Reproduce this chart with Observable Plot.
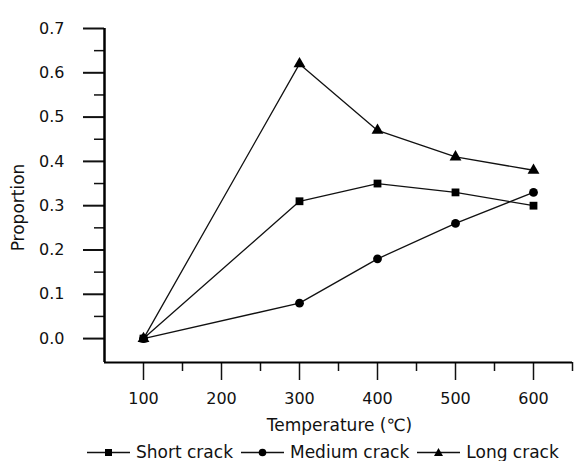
<!DOCTYPE html>
<html><head><meta charset="utf-8">
<script src="https://cdn.jsdelivr.net/npm/d3@7"></script>
<script src="https://cdn.jsdelivr.net/npm/@observablehq/plot@0.6"></script>
<style>
body{margin:0;background:#fff;font-family:"DejaVu Sans",sans-serif;overflow:hidden}
#legend{display:flex;justify-content:flex-start;align-items:center;font-size:17px;line-height:18px;color:#111;height:18px;margin-top:0px;padding-left:87px;white-space:nowrap}
#legend span.item{display:flex;align-items:center;margin-right:8px}
#legend svg{margin-right:6px}
</style></head><body>
<div id="chart"></div>
<div id="legend"></div>
<script>
const temps = [100, 300, 400, 500, 600];
const shortCrack = [0, 0.31, 0.35, 0.33, 0.30];
const mediumCrack = [0, 0.08, 0.18, 0.26, 0.33];
const longCrack = [0, 0.62, 0.47, 0.41, 0.38];
const seriesNames = ["Short crack", "Medium crack", "Long crack"];
const seriesSymbols = ["square", "circle", "triangle"];
const yMajor = [0, 0.1, 0.2, 0.3, 0.4, 0.5, 0.6, 0.7];
const yMinor = [0.05, 0.15, 0.25, 0.35, 0.45, 0.55, 0.65];
const xMajor = [100, 200, 300, 400, 500, 600];
const xMinor = [150, 250, 350, 450, 550, 650];

const allSeries = [shortCrack, mediumCrack, longCrack];
const data = [];
allSeries.forEach((vals, i) => vals.forEach((v, j) => data.push({t: temps[j], v, s: seriesNames[i]})));

const yMin = -0.054, xMin = 50, xMax = 650;
const fs = 16;
const chart = Plot.plot({
  width: 574, height: 443,
  marginLeft: 104, marginTop: 28, marginRight: 2, marginBottom: 81,
  style: {fontFamily: '"DejaVu Sans", sans-serif', fontSize: fs + "px", color: "#111", background: "transparent"},
  x: {domain: [xMin, xMax]},
  y: {domain: [yMin, 0.7]},
  symbol: {domain: seriesNames, range: seriesSymbols},
  marks: [
    Plot.axisY({ticks: yMajor, tickSize: 21, tickPadding: 19, tickFormat: d3.format(".1f"), label: null, fontSize: fs, strokeWidth: 2}),
    Plot.axisY({ticks: yMinor, tickSize: 10, tickFormat: () => "", label: null, strokeWidth: 1.5}),
    Plot.axisX({ticks: xMajor, tickSize: 18, tickPadding: 12, tickFormat: d => d, label: null, fontSize: fs, strokeWidth: 1.5}),
    Plot.axisX({ticks: xMinor, tickSize: 9, tickFormat: () => "", label: null, strokeWidth: 1.5}),
    Plot.ruleX([xMin], {strokeWidth: 2.5, stroke: "#000"}),
    Plot.ruleY([yMin], {strokeWidth: 2, stroke: "#000"}),
    Plot.line(data, {x: "t", y: "v", z: "s", stroke: "#111", strokeWidth: 1.3}),
    Plot.dot(data, {x: "t", y: "v", symbol: "s", fill: "#000", r: 4.4}),
    Plot.text(["Proportion"], {frameAnchor: "left", textAnchor: "middle", rotate: -90, dx: -86, dy: 12, fontSize: 17, fill: "#111"}),
    Plot.text(["Temperature (℃)"], {frameAnchor: "bottom", dx: 1, dy: 68, fontSize: 17, fill: "#111"})
  ]
});
document.getElementById("chart").appendChild(chart);

const legend = document.getElementById("legend");
const shapes = {
  square: '<rect x="18" y="4" width="7" height="7" fill="#000"/>',
  circle: '<circle cx="21.5" cy="7.5" r="3.8" fill="#000"/>',
  triangle: '<path d="M21.5,3 L26,11 L17,11 Z" fill="#000"/>'
};
seriesNames.forEach((name, i) => {
  const el = document.createElement("span");
  el.className = "item";
  el.innerHTML = `<svg width="43" height="14"><line x1="0" x2="43" y1="7.5" y2="7.5" stroke="#111" stroke-width="1.5"/>${shapes[seriesSymbols[i]]}</svg><span>${name}</span>`;
  legend.appendChild(el);
});
</script>
</body></html>
